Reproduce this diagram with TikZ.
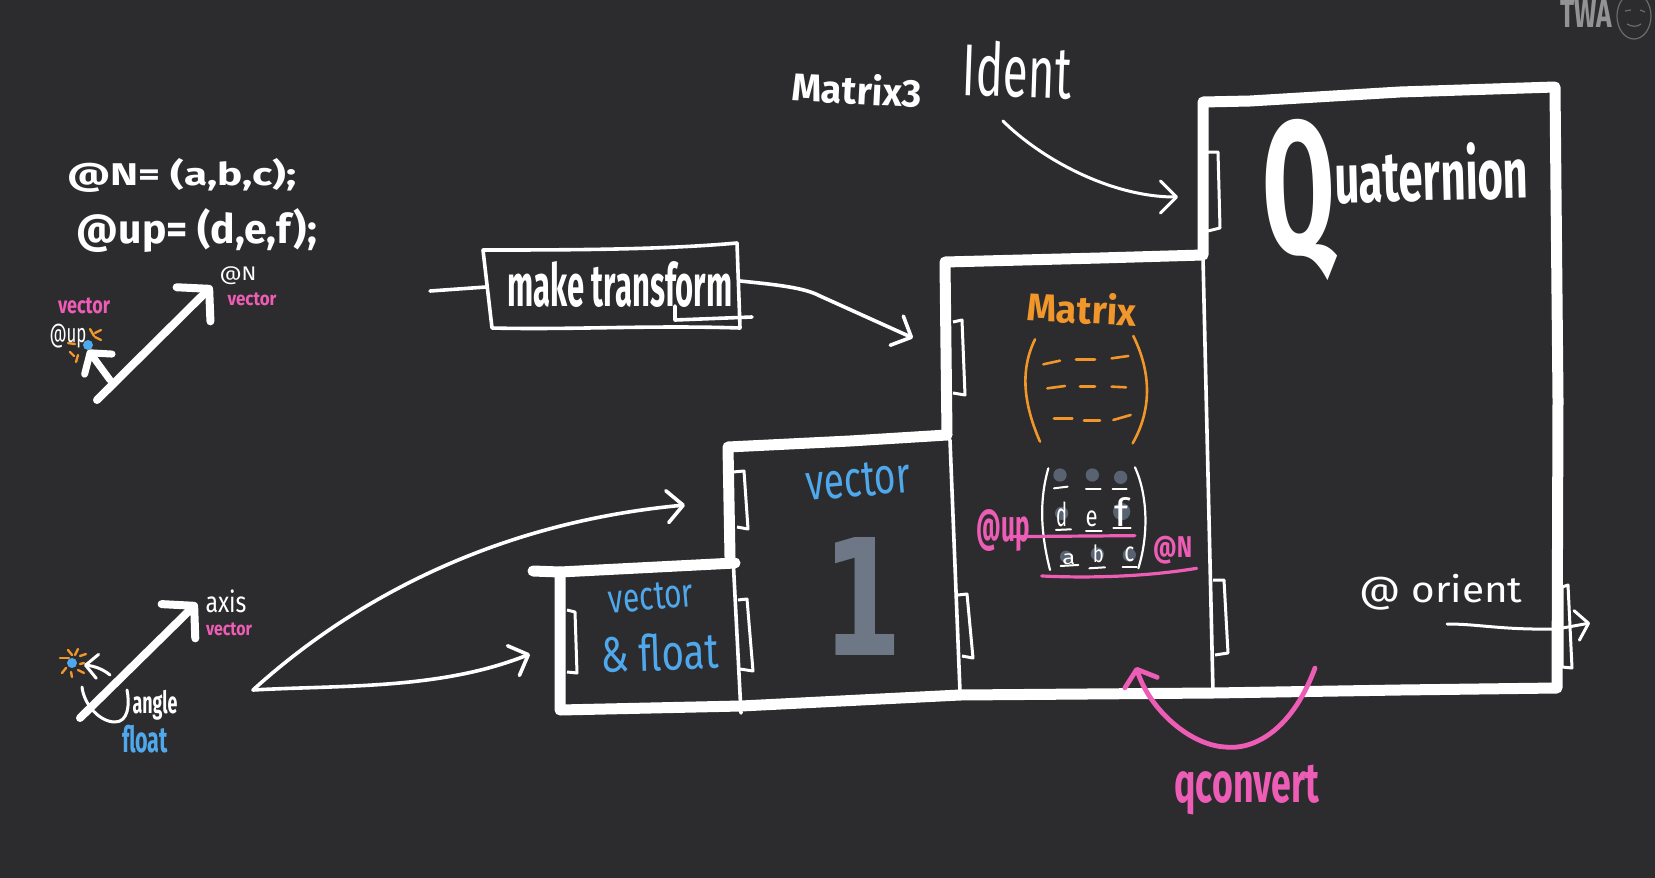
\documentclass[tikz,border=0pt]{standalone}
\usepackage{graphicx}
\usepackage{fontspec}
\setmainfont{Fira Sans}
\usetikzlibrary{arrows.meta}
\definecolor{bgc}{HTML}{2C2B2D}
\definecolor{pinkc}{HTML}{EE5DB5}
\definecolor{orangec}{HTML}{F0962A}
\definecolor{bluec}{HTML}{4FA8EC}
\definecolor{grayc}{HTML}{5D6878}
\newcommand{\fit}[3]{\resizebox*{\dimexpr#1pt/2\relax}{\dimexpr#2pt/2\relax}{#3}}
\tikzset{
  lbl/.style={inner sep=0pt,outer sep=0pt,text=white},
  pinklbl/.style={lbl,text=pinkc},
  bluelbl/.style={lbl,text=bluec},
  orangelbl/.style={lbl,text=orangec},
  wall/.style={draw=white,line width=5.5pt,line join=round,line cap=round},
  thinwall/.style={draw=white,line width=1.8pt,line cap=round},
  tabbox/.style={draw=white,line width=1.5pt,line join=round},
  pen/.style={draw=white,line width=1.5pt,line cap=round,line join=round},
  barb/.style={-{Straight Barb[length=8pt,width=16pt,round]}},
  thick arrow/.style={draw=white,line width=4pt,line cap=round,-{Straight Barb[length=11pt,width=24pt,round]}},
  ray/.style={draw=orangec,line width=1.2pt,line cap=round},
  dash orange/.style={draw=orangec,line width=1.3pt,line cap=round},
  paren orange/.style={draw=orangec,line width=1.3pt,line cap=round},
  rule white/.style={draw=white,line width=1pt,line cap=round},
  rule pink/.style={draw=pinkc,line width=1.6pt,line cap=round},
  gdot/.style={fill=grayc,draw=none,opacity=.9}
}
\begin{document}
\begin{tikzpicture}[x=0.5pt,y=-0.5pt]
\useasboundingbox (0,0) rectangle (1655,878);
\fill[bgc] (0,0) rectangle (1655,878);

% --- stepped outline
\draw[wall] (533,571) -- (560,572) -- (735,563);
\draw[wall] (560,572) -- (560,710) -- (741,706) -- (960,695) -- (1213,693) -- (1400,690) -- (1557,688)
  -- (1558,400) -- (1555,87) -- (1400,92) -- (1250,101) -- (1203,102) -- (1203,255) -- (1100,258) -- (945,262)
  -- (947,435) -- (850,441) -- (728,447) -- (730,557);
\draw[thinwall] (733,557) -- (741,713);
\draw[thinwall] (950,440) -- (960,692);
\draw[thinwall] (1203,258) -- (1213,692);

% --- tabs
\draw[tabbox] (567,610) -- (575,612) -- (577,673) -- (567,672);
\draw[tabbox] (733,472) -- (744,471) -- (748,529) -- (737,527);
\draw[tabbox] (738,600) -- (747,599) -- (753,671) -- (740,669);
\draw[tabbox] (953,322) -- (962,320) -- (965,395) -- (953,393);
\draw[tabbox] (958,595) -- (967,594) -- (973,658) -- (962,656);
\draw[tabbox] (1208,152) -- (1218,152) -- (1220,228) -- (1208,231);
\draw[tabbox] (1213,580) -- (1224,580) -- (1228,653) -- (1215,655);
\draw[tabbox] (1562,587) -- (1568,585) -- (1572,668) -- (1562,667) -- cycle;

% --- top labels
\node[lbl,rotate=-3] (matrixthree) at (857,89) {\fit{130}{32}{\bfseries Matrix3}};
\node[lbl,rotate=-2] (ident) at (1017,70) {\fit{109}{56}{Ident}};
\node[lbl,anchor=base west,rotate=1.5] (quat) at (1263,205) {\raisebox{-25pt}{\resizebox*{36pt}{81pt}{\bfseries Q}}\resizebox*{97pt}{29pt}{\bfseries uaternion}};

\coordinate (identfrom) at (1003,121);
\coordinate (identto) at (1178,197);
\draw[pen,barb] (identfrom) .. controls (1040,158) and (1110,197) .. (identto);

% --- make transform
\coordinate (mtin) at (430,291);
\coordinate (mtto) at (913,338);
\coordinate (bna) at (483,250);
\coordinate (bnb) at (737,243);
\coordinate (bnc) at (740,328);
\coordinate (bnd) at (492,328);
\draw[pen,line width=1.8pt] (bna) .. controls (560,250) and (660,250) .. (bnb) -- (bnc) .. controls (650,325) and (570,330) .. (bnd) -- cycle;
\node[lbl] (mt) at (620,285) {\fit{225}{46}{\bfseries make transform}};
\draw[pen,line width=1.8pt] (675,306) -- (675,320) -- (752,317);
\draw[pen,line width=1.8pt] (mtin) -- (486,287);
\draw[pen,line width=1.8pt,barb] (740,281) .. controls (780,285) and (805,288) .. (820,296) -- (mtto);

% --- upper-left vectors
\node[lbl] (eqN) at (182,175) {\fit{229}{34}{\bfseries @N= (a,b,c);}};
\node[lbl] (equp) at (197,231) {\fit{240}{44}{\bfseries @up= (d,e,f);}};
\coordinate (nfrom) at (97,400);
\coordinate (nto) at (212,286);
\coordinate (ufrom) at (110,380);
\coordinate (uto) at (88,350);
\draw[thick arrow] (nfrom) -- (nto);
\draw[draw=white,line width=3.5pt,line cap=round,-{Straight Barb[length=7pt,width=17pt,round]}] (ufrom) -- (uto);
\node[lbl] (labN) at (238,276) {\fit{37}{18}{@N}};
\node[pinklbl] (vecN) at (252,299) {\fit{49}{13}{\bfseries vector}};
\node[pinklbl] (vecU) at (84,306) {\fit{52}{16}{\bfseries vector}};
\node[lbl] (labU) at (68,336) {\fit{37}{24}{@up}};
\fill[bluec] (88,345) circle[radius=5];
\draw[ray] (90,329) -- (94,336);
\draw[ray] (95,333) -- (101,330);
\draw[ray] (95,337) -- (101,340);
\draw[ray] (68,343) -- (75,344);
\draw[ray] (70,352) -- (74,356);
\draw[ray] (78,355) -- (76,362);

% --- lower-left vectors
\coordinate (afrom) at (80,718);
\coordinate (ato) at (197,603);
\draw[thick arrow] (afrom) -- (ato);
\node[lbl] (axis) at (226,601) {\fit{41}{23}{axis}};
\node[pinklbl] (axisv) at (229,629) {\fit{46}{13}{\bfseries vector}};
\node[lbl] (angle) at (155,705) {\fit{45}{30}{\bfseries angle}};
\node[bluelbl] (flt) at (145,739) {\fit{46}{28}{\bfseries float}};
\fill[bluec] (72,663) circle[radius=5];
\draw[ray] (60,658) -- (69,658);
\draw[ray] (68,650) -- (72,655);
\draw[ray] (78,649) -- (75,655);
\draw[ray] (80,656) -- (86,654);
\draw[ray] (80,664) -- (84,663);
\draw[ray] (78,670) -- (84,673);
\draw[ray] (71,672) -- (72,677);
\draw[ray] (66,668) -- (62,673);
\coordinate (rotfrom) at (110,675);
\coordinate (rotto) at (84,665);
\draw[pen,-{Straight Barb[length=6pt,width=12pt,round]}] (rotfrom) .. controls (103,669) and (94,666) .. (rotto);
\draw[pen] (82,687) .. controls (84,705) and (100,722) .. (115,722) .. controls (128,722) and (130,705) .. (127,690);

% --- split connector
\coordinate (split) at (253,690);
\coordinate (toV1) at (685,505);
\coordinate (toVF) at (530,654);
\draw[pen,line width=1.8pt,barb] (split) .. controls (330,620) and (470,525) .. (toV1);
\draw[pen,line width=1.8pt,barb] (split) .. controls (340,685) and (440,690) .. (toVF);

% --- vector & float
\node[bluelbl,rotate=5] (vf1) at (651,597) {\fit{85}{27}{vector}};
\node[bluelbl,rotate=2] (vf2) at (660,652) {\fit{118}{38}{\& float}};
\node[bluelbl,rotate=5] (v1) at (858,480) {\fit{105}{34}{vector}};
\node[lbl,text=grayc!90!white] (one) at (862,596) {\fit{80}{118}{\fontspec{DejaVu Sans Bold}1}};

% --- Matrix
\node[orangelbl,rotate=-3] (mx) at (1082,308) {\fit{110}{32}{\bfseries Matrix}};
\begin{scope}[shift={(940,270)},scale=0.3333]
\draw[paren orange] (285,208) .. controls (240,300) and (250,400) .. (300,515);
\draw[paren orange] (580,198) .. controls (635,310) and (635,420) .. (578,520);
\draw[dash orange] (310,283) -- (360,272);
\draw[dash orange] (408,268) -- (465,268);
\draw[dash orange] (515,265) -- (565,258);
\draw[dash orange] (322,355) -- (375,348);
\draw[dash orange] (420,350) -- (465,350);
\draw[dash orange] (515,350) -- (558,352);
\draw[dash orange] (342,445) -- (397,445);
\draw[dash orange] (432,452) -- (480,452);
\draw[dash orange] (520,450) -- (572,435);
\draw[pen,line width=1.1pt] (325,595) .. controls (295,700) and (305,800) .. (330,900);
\draw[pen,line width=1.1pt] (585,592) .. controls (625,680) and (625,800) .. (595,895);
\fill[gdot] (360,615) circle[radius=20];
\fill[gdot] (457,615) circle[radius=20];
\fill[gdot] (542,622) circle[radius=20];
\fill[gdot] (365,730) circle[radius=20];
\fill[gdot] (545,725) circle[radius=26];
\fill[gdot] (378,860) circle[radius=18];
\fill[gdot] (472,852) circle[radius=20];
\fill[gdot] (568,855) circle[radius=20];
\draw[rule white] (342,655) -- (383,650);
\draw[rule white] (438,657) -- (482,657);
\draw[rule white] (518,658) -- (560,658);
\draw[rule white] (348,780) -- (393,778);
\draw[rule white] (438,782) -- (485,782);
\draw[rule white] (520,775) -- (572,775);
\draw[rule white] (362,888) -- (415,885);
\draw[rule white] (448,895) -- (495,892);
\draw[rule white] (548,890) -- (590,890);
\node[lbl] (ld) at (365,733) {\fit{11}{25}{d}};
\node[lbl] (le) at (455,748) {\fit{12}{16}{e}};
\node[lbl] (lf) at (546,727) {\fit{14}{29}{f}};
\node[lbl] (la) at (387,868) {\fit{13}{11}{a}};
\node[lbl] (lb) at (475,852) {\fit{11}{18}{b}};
\node[lbl] (lc) at (568,853) {\fit{10}{15}{c}};
\draw[rule pink] (212,800) -- (585,797);
\draw[rule pink] (305,918) .. controls (450,925) and (620,920) .. (770,895);
\node[pinklbl] (upp) at (190,782) {\fit{53}{42}{\bfseries @up}};
\node[pinklbl] (np) at (698,842) {\fit{39}{28}{\bfseries @N}};
\end{scope}

% --- orient
\node[lbl] (orient) at (1441,592) {\fit{163}{36}{@ orient}};
\coordinate (orfrom) at (1447,624);
\coordinate (orto) at (1590,623);
\draw[pen,-{Straight Barb[length=6pt,width=15pt,round]}] (orfrom) .. controls (1480,624) and (1500,630) .. (1557,629) -- (orto);

% --- qconvert
\coordinate (qfrom) at (1315,668);
\coordinate (qto) at (1136,667);
\draw[draw=pinkc,line width=2.4pt,line cap=round,-{Straight Barb[length=7pt,width=17pt,round]}] (qfrom) .. controls (1290,735) and (1250,750) .. (1225,747) .. controls (1190,745) and (1150,710) .. (qto);
\node[pinklbl] (qc) at (1247,790) {\fit{145}{50}{\bfseries qconvert}};

% --- badge
\node[lbl,text=gray!85!white] (twa) at (1586,14) {\fit{52}{27}{\bfseries TWA}};
\draw[draw=white!30!bgc,line width=.6pt] (1634,16) ellipse[x radius=17,y radius=23];
\draw[draw=white!30!bgc,line width=.6pt] (1625,11) -- (1631,10) (1640,10) -- (1645,12) (1627,24) .. controls (1632,27) and (1637,27) .. (1641,24);
\end{tikzpicture}
\end{document}
